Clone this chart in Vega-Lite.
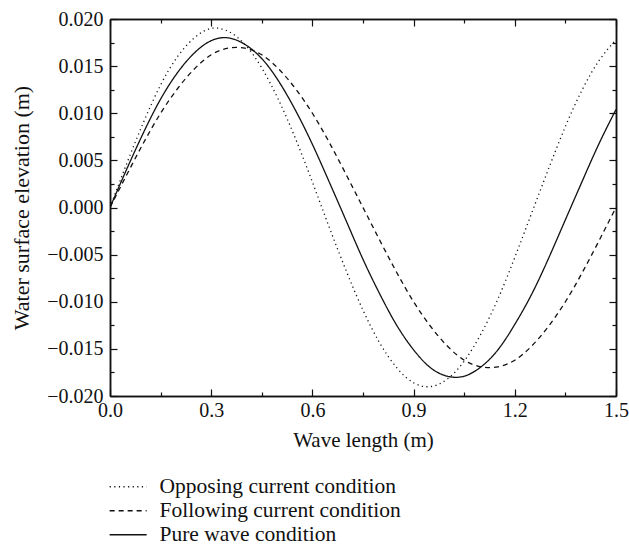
{
  "$schema": "https://vega.github.io/schema/vega-lite/v6.json",
  "width": 506,
  "height": 377,
  "autosize": "none",
  "padding": {"left": 110, "top": 19, "right": 13, "bottom": 155},
  "background": "white",
  "config": {
    "view": {"stroke": null},
    "font": "Liberation Serif",
    "axis": {
      "labelFont": "Liberation Serif",
      "titleFont": "Liberation Serif",
      "labelFontSize": 20,
      "titleFontSize": 21,
      "titleFontWeight": "normal",
      "labelColor": "#111",
      "titleColor": "#111",
      "domainColor": "#111",
      "domainWidth": 1.5,
      "tickColor": "#111",
      "tickWidth": 1.2,
      "grid": false,
      "labelFlush": false,
      "labelOverlap": false
    }
  },
  "data": {
    "values": [
      {"series": "Opposing current condition", "x": 0.00, "y": 0.0000},
      {"series": "Opposing current condition", "x": 0.05, "y": 0.0047},
      {"series": "Opposing current condition", "x": 0.10, "y": 0.0091},
      {"series": "Opposing current condition", "x": 0.15, "y": 0.0130},
      {"series": "Opposing current condition", "x": 0.20, "y": 0.0160},
      {"series": "Opposing current condition", "x": 0.25, "y": 0.0180},
      {"series": "Opposing current condition", "x": 0.30, "y": 0.0190},
      {"series": "Opposing current condition", "x": 0.35, "y": 0.0187},
      {"series": "Opposing current condition", "x": 0.40, "y": 0.0173},
      {"series": "Opposing current condition", "x": 0.45, "y": 0.0148},
      {"series": "Opposing current condition", "x": 0.50, "y": 0.0114},
      {"series": "Opposing current condition", "x": 0.55, "y": 0.0073},
      {"series": "Opposing current condition", "x": 0.60, "y": 0.0027},
      {"series": "Opposing current condition", "x": 0.65, "y": -0.0021},
      {"series": "Opposing current condition", "x": 0.70, "y": -0.0067},
      {"series": "Opposing current condition", "x": 0.75, "y": -0.0109},
      {"series": "Opposing current condition", "x": 0.80, "y": -0.0144},
      {"series": "Opposing current condition", "x": 0.85, "y": -0.0170},
      {"series": "Opposing current condition", "x": 0.90, "y": -0.0186},
      {"series": "Opposing current condition", "x": 0.95, "y": -0.0190},
      {"series": "Opposing current condition", "x": 1.00, "y": -0.0182},
      {"series": "Opposing current condition", "x": 1.05, "y": -0.0163},
      {"series": "Opposing current condition", "x": 1.10, "y": -0.0134},
      {"series": "Opposing current condition", "x": 1.15, "y": -0.0097},
      {"series": "Opposing current condition", "x": 1.20, "y": -0.0053},
      {"series": "Opposing current condition", "x": 1.25, "y": -0.0006},
      {"series": "Opposing current condition", "x": 1.30, "y": 0.0041},
      {"series": "Opposing current condition", "x": 1.35, "y": 0.0086},
      {"series": "Opposing current condition", "x": 1.40, "y": 0.0125},
      {"series": "Opposing current condition", "x": 1.45, "y": 0.0156},
      {"series": "Opposing current condition", "x": 1.50, "y": 0.0178},
      {"series": "Following current condition", "x": 0.00, "y": 0.0000},
      {"series": "Following current condition", "x": 0.05, "y": 0.0035},
      {"series": "Following current condition", "x": 0.10, "y": 0.0069},
      {"series": "Following current condition", "x": 0.15, "y": 0.0100},
      {"series": "Following current condition", "x": 0.20, "y": 0.0126},
      {"series": "Following current condition", "x": 0.25, "y": 0.0147},
      {"series": "Following current condition", "x": 0.30, "y": 0.0162},
      {"series": "Following current condition", "x": 0.35, "y": 0.0169},
      {"series": "Following current condition", "x": 0.40, "y": 0.0169},
      {"series": "Following current condition", "x": 0.45, "y": 0.0162},
      {"series": "Following current condition", "x": 0.50, "y": 0.0147},
      {"series": "Following current condition", "x": 0.55, "y": 0.0126},
      {"series": "Following current condition", "x": 0.60, "y": 0.0100},
      {"series": "Following current condition", "x": 0.65, "y": 0.0069},
      {"series": "Following current condition", "x": 0.70, "y": 0.0035},
      {"series": "Following current condition", "x": 0.75, "y": 0.0000},
      {"series": "Following current condition", "x": 0.80, "y": -0.0035},
      {"series": "Following current condition", "x": 0.85, "y": -0.0069},
      {"series": "Following current condition", "x": 0.90, "y": -0.0100},
      {"series": "Following current condition", "x": 0.95, "y": -0.0126},
      {"series": "Following current condition", "x": 1.00, "y": -0.0147},
      {"series": "Following current condition", "x": 1.05, "y": -0.0162},
      {"series": "Following current condition", "x": 1.10, "y": -0.0169},
      {"series": "Following current condition", "x": 1.15, "y": -0.0169},
      {"series": "Following current condition", "x": 1.20, "y": -0.0162},
      {"series": "Following current condition", "x": 1.25, "y": -0.0147},
      {"series": "Following current condition", "x": 1.30, "y": -0.0126},
      {"series": "Following current condition", "x": 1.35, "y": -0.0100},
      {"series": "Following current condition", "x": 1.40, "y": -0.0069},
      {"series": "Following current condition", "x": 1.45, "y": -0.0035},
      {"series": "Following current condition", "x": 1.50, "y": 0.0000},
      {"series": "Pure wave condition", "x": 0.00, "y": 0.0000},
      {"series": "Pure wave condition", "x": 0.05, "y": 0.0041},
      {"series": "Pure wave condition", "x": 0.10, "y": 0.0080},
      {"series": "Pure wave condition", "x": 0.15, "y": 0.0115},
      {"series": "Pure wave condition", "x": 0.20, "y": 0.0143},
      {"series": "Pure wave condition", "x": 0.25, "y": 0.0164},
      {"series": "Pure wave condition", "x": 0.30, "y": 0.0177},
      {"series": "Pure wave condition", "x": 0.35, "y": 0.0180},
      {"series": "Pure wave condition", "x": 0.40, "y": 0.0173},
      {"series": "Pure wave condition", "x": 0.45, "y": 0.0158},
      {"series": "Pure wave condition", "x": 0.50, "y": 0.0134},
      {"series": "Pure wave condition", "x": 0.55, "y": 0.0103},
      {"series": "Pure wave condition", "x": 0.60, "y": 0.0067},
      {"series": "Pure wave condition", "x": 0.65, "y": 0.0027},
      {"series": "Pure wave condition", "x": 0.70, "y": -0.0014},
      {"series": "Pure wave condition", "x": 0.75, "y": -0.0055},
      {"series": "Pure wave condition", "x": 0.80, "y": -0.0092},
      {"series": "Pure wave condition", "x": 0.85, "y": -0.0125},
      {"series": "Pure wave condition", "x": 0.90, "y": -0.0151},
      {"series": "Pure wave condition", "x": 0.95, "y": -0.0170},
      {"series": "Pure wave condition", "x": 1.00, "y": -0.0179},
      {"series": "Pure wave condition", "x": 1.05, "y": -0.0179},
      {"series": "Pure wave condition", "x": 1.10, "y": -0.0169},
      {"series": "Pure wave condition", "x": 1.15, "y": -0.0151},
      {"series": "Pure wave condition", "x": 1.20, "y": -0.0124},
      {"series": "Pure wave condition", "x": 1.25, "y": -0.0092},
      {"series": "Pure wave condition", "x": 1.30, "y": -0.0054},
      {"series": "Pure wave condition", "x": 1.35, "y": -0.0013},
      {"series": "Pure wave condition", "x": 1.40, "y": 0.0028},
      {"series": "Pure wave condition", "x": 1.45, "y": 0.0068},
      {"series": "Pure wave condition", "x": 1.50, "y": 0.0104}
    ]
  },
  "layer": [
    {
      "mark": {"type": "line", "interpolate": "natural", "strokeWidth": 1.3, "color": "#111", "clip": true},
      "encoding": {
        "x": {"field": "x", "type": "quantitative", "scale": {"domain": [0, 1.5], "nice": false, "zero": false},
          "axis": {"orient": "bottom", "values": [0, 0.3, 0.6, 0.9, 1.2, 1.5], "format": ".1f", "tickSize": -7, "labelPadding": 11, "title": "Wave length (m)", "titlePadding": 9}},
        "y": {"field": "y", "type": "quantitative", "scale": {"domain": [-0.02, 0.02], "nice": false, "zero": false},
          "axis": {"orient": "left", "values": [-0.02, -0.015, -0.01, -0.005, 0, 0.005, 0.01, 0.015, 0.02], "format": ".3f", "tickSize": -7, "labelPadding": 14, "title": "Water surface elevation (m)", "titleFontSize": 22, "titlePadding": 13}},
        "strokeDash": {"field": "series", "type": "nominal",
          "scale": {"domain": ["Opposing current condition", "Following current condition", "Pure wave condition"], "range": [[1.2, 3.4], [5, 4], [1, 0]]},
          "legend": {"title": null, "orient": "bottom", "direction": "vertical", "symbolType": "M-1.2,0H2.8", "symbolSize": 342, "symbolStrokeWidth": 1.3, "symbolStrokeColor": "#111", "labelFont": "Liberation Serif", "labelFontSize": 21.5, "labelColor": "#111", "labelLimit": 500, "labelOffset": 28, "rowPadding": 1, "offset": 26}}
      }
    },
    {
      "mark": {"type": "point", "opacity": 0},
      "encoding": {
        "x": {"field": "x", "type": "quantitative", "axis": {"orient": "bottom", "values": [0.15, 0.45, 0.75, 1.05, 1.35], "tickSize": -4, "labels": false, "title": null}},
        "y": {"field": "y", "type": "quantitative", "axis": {"orient": "left", "values": [-0.0175, -0.0125, -0.0075, -0.0025, 0.0025, 0.0075, 0.0125, 0.0175], "tickSize": -4, "labels": false, "title": null}}
      }
    },
    {
      "mark": {"type": "point", "opacity": 0},
      "encoding": {
        "x": {"field": "x", "type": "quantitative", "axis": {"orient": "top", "values": [0, 0.3, 0.6, 0.9, 1.2, 1.5], "tickSize": -7, "labels": false, "title": null}},
        "y": {"field": "y", "type": "quantitative", "axis": {"orient": "right", "values": [-0.02, -0.015, -0.01, -0.005, 0, 0.005, 0.01, 0.015, 0.02], "tickSize": -7, "labels": false, "title": null}}
      }
    },
    {
      "mark": {"type": "point", "opacity": 0},
      "encoding": {
        "x": {"field": "x", "type": "quantitative", "axis": {"orient": "top", "values": [0.15, 0.45, 0.75, 1.05, 1.35], "tickSize": -4, "labels": false, "title": null}},
        "y": {"field": "y", "type": "quantitative", "axis": {"orient": "right", "values": [-0.0175, -0.0125, -0.0075, -0.0025, 0.0025, 0.0075, 0.0125, 0.0175], "tickSize": -4, "labels": false, "title": null}}
      }
    }
  ],
  "resolve": {"axis": {"x": "independent", "y": "independent"}}
}
